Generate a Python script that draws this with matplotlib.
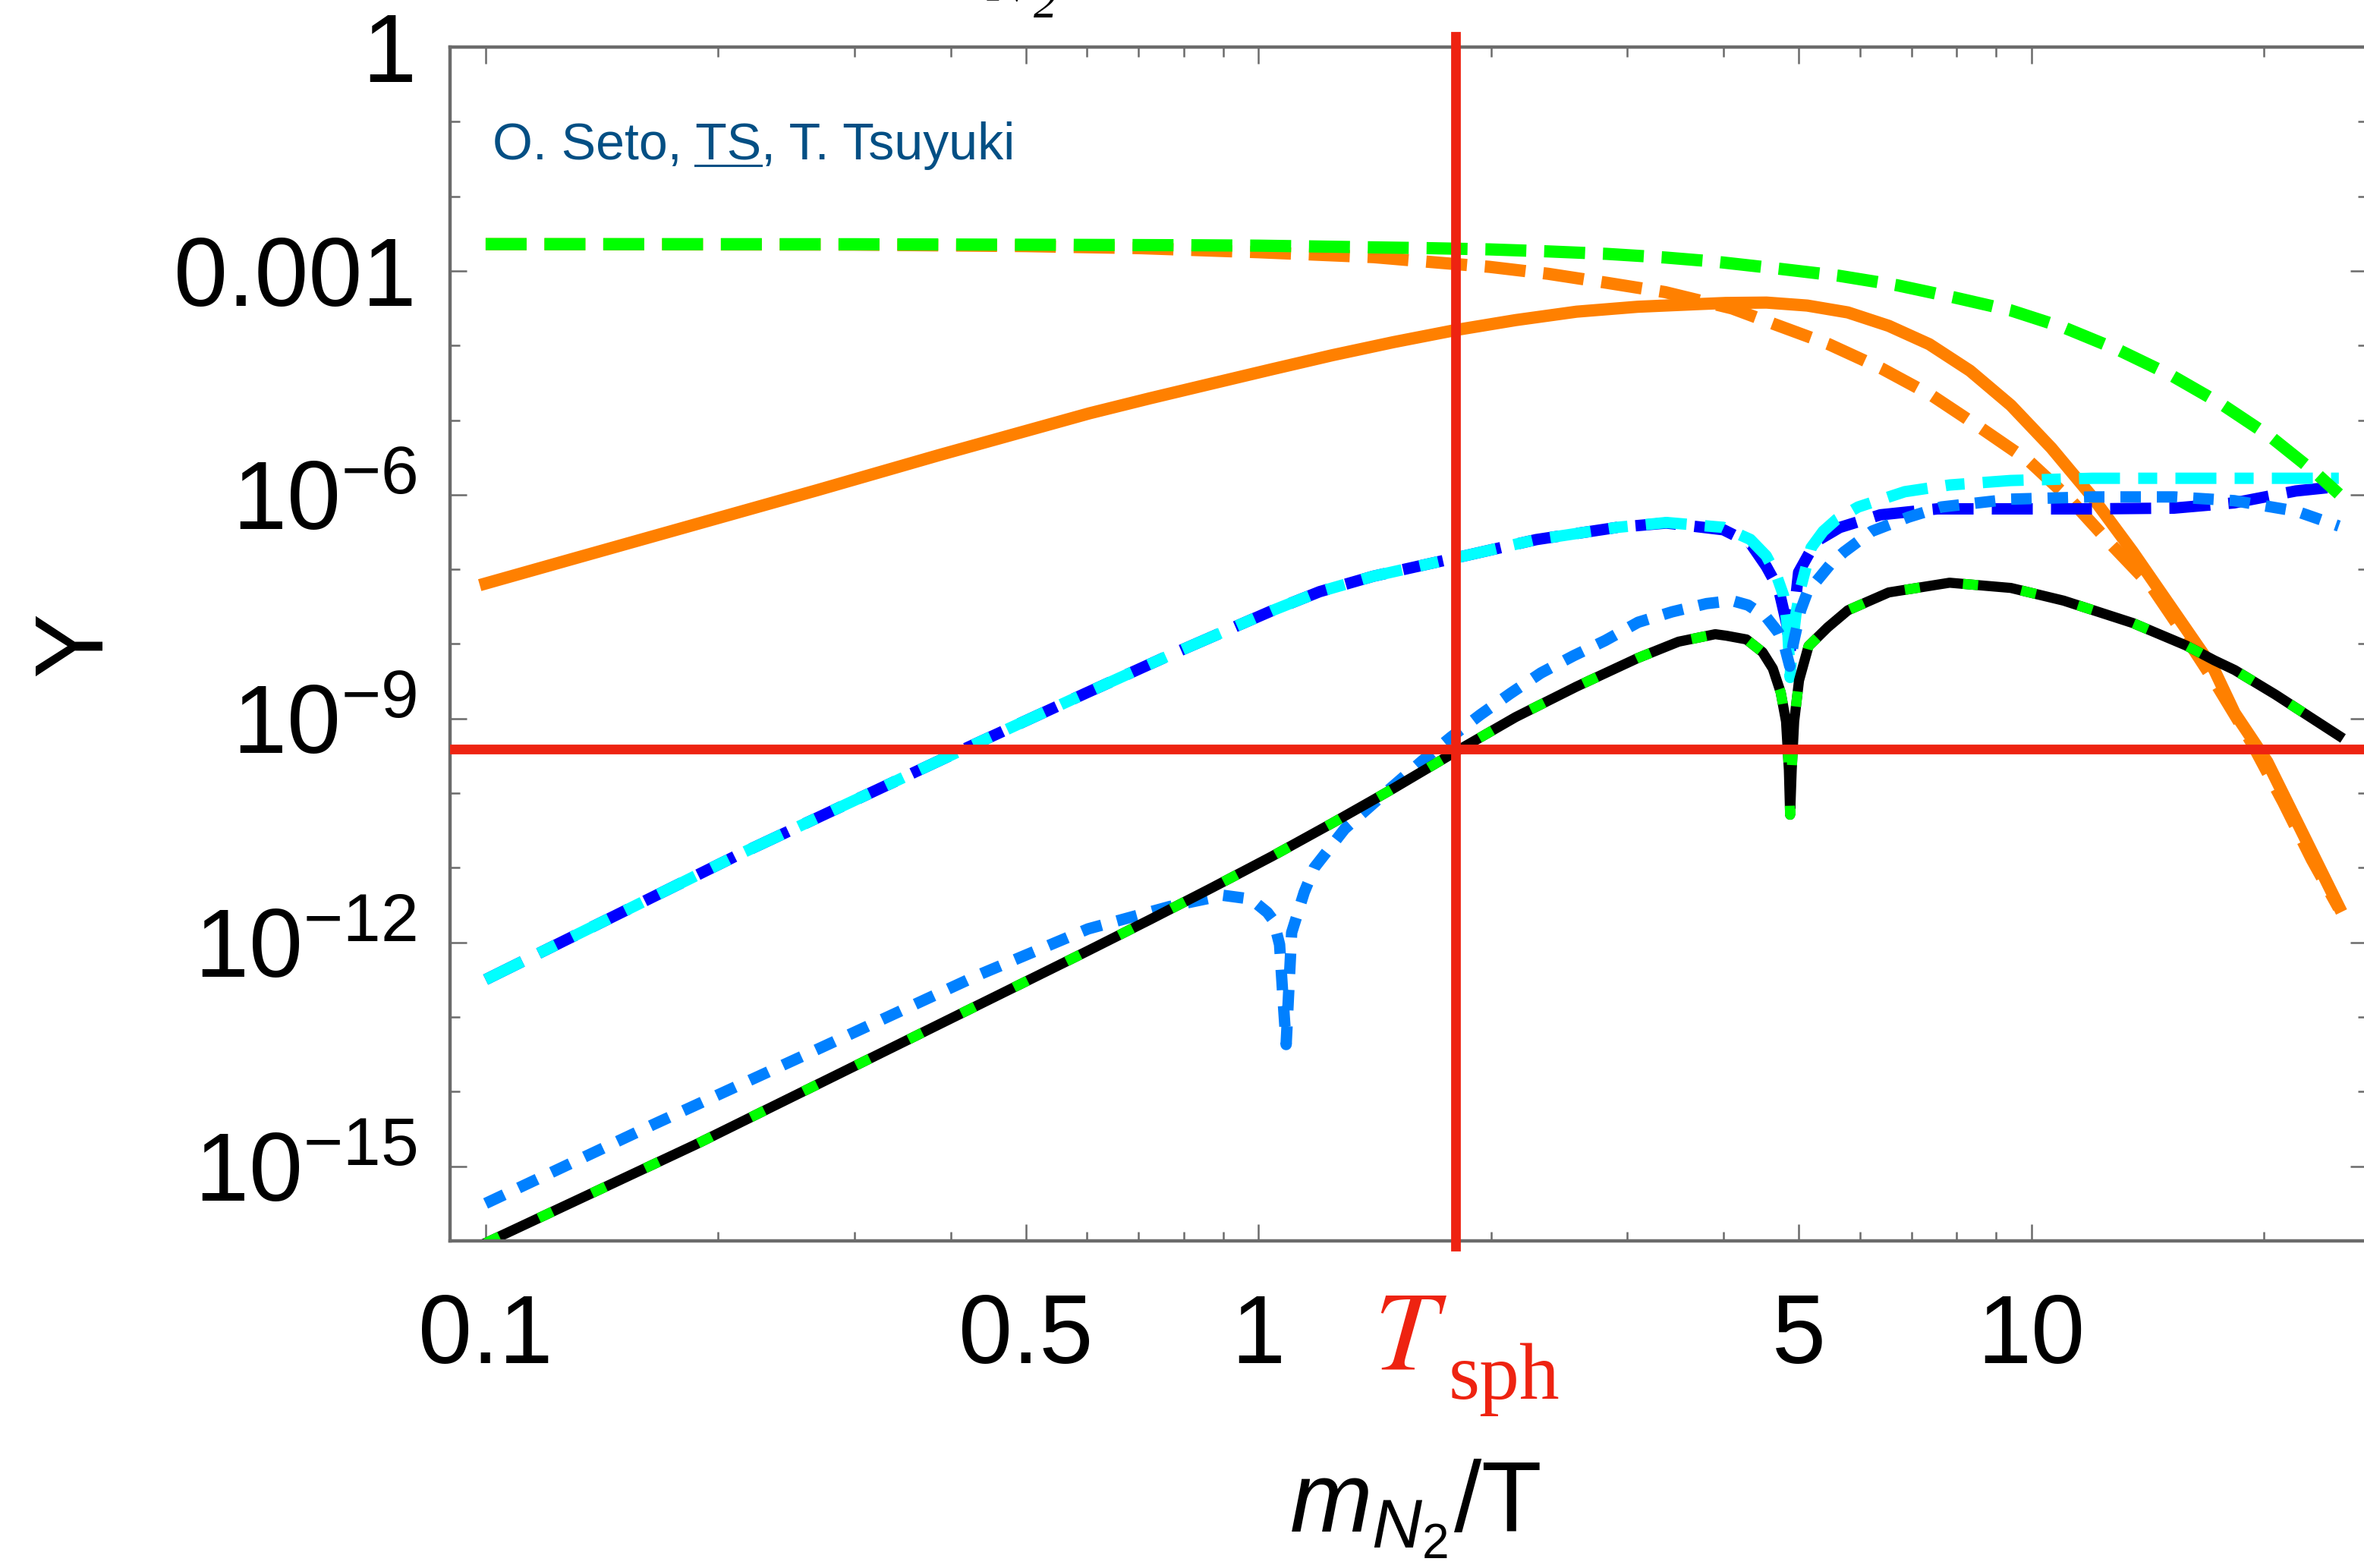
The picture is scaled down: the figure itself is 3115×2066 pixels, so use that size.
import numpy as np
import matplotlib
matplotlib.use("Agg")
import matplotlib.pyplot as plt
from matplotlib.lines import Line2D
from matplotlib.ticker import FixedLocator, FixedFormatter, NullFormatter

# ── Data (y values stored as log10 Y) ────────────────────────────────────────

green_top_x = [0.1, 0.3, 0.6, 0.838, 1.0, 1.186, 1.41, 1.67, 1.99, 2.37, 2.82,
               3.36, 3.89, 4.74, 5.64, 6.70, 7.94, 9.41, 11.05, 13.0, 15.23,
               17.65, 20.42, 23.3, 25.0]
green_top_logy = [-2.641, -2.643, -2.652, -2.657, -2.662, -2.673, -2.685,
                  -2.696, -2.712, -2.739, -2.772, -2.821, -2.875, -2.974,
                  -3.066, -3.192, -3.355, -3.530, -3.764, -4.065, -4.409,
                  -4.790, -5.227, -5.702, -5.99]

orange_dash_x = [0.1, 0.3, 0.5, 0.705, 1.0, 1.41, 1.67, 1.99, 2.37, 2.82,
                 3.36, 4.10, 4.64, 5.47, 6.41, 7.45, 8.62, 9.93, 11.21, 12.69,
                 14.33, 15.47, 17.36, 19.24, 21.2, 23.07, 25.0]
orange_dash_logy = [-2.642, -2.648, -2.668, -2.696, -2.75, -2.816, -2.881,
                    -2.946, -3.039, -3.159, -3.285, -3.503, -3.710, -3.983,
                    -4.311, -4.676, -5.112, -5.549, -6.056, -6.667, -7.240,
                    -7.748, -8.544, -9.308, -10.126, -10.89, -11.54]

orange_sol_x = [0.1, 0.1297, 0.1866, 0.2685, 0.386, 0.604, 0.7225, 0.8666,
                1.04, 1.247, 1.496, 1.80, 2.152, 2.58, 3.096, 3.715, 4.025,
                4.544, 5.13, 5.79, 6.54, 7.38, 8.33, 9.41, 10.62, 11.99,
                13.53, 15.28, 17.25, 18.33, 20.2, 22.5, 25.0]
orange_sol_logy = [-7.19, -6.86, -6.40, -5.94, -5.47, -4.91, -4.71, -4.515,
                   -4.32, -4.13, -3.955, -3.793, -3.66, -3.547, -3.481,
                   -3.445, -3.43, -3.425, -3.465, -3.557, -3.737, -3.983,
                   -4.338, -4.802, -5.375, -6.029, -6.765, -7.557, -8.348,
                   -8.926, -9.58, -10.56, -11.52]

cyan_x = [0.1, 0.211, 0.41, 0.598, 0.768, 1.04, 1.2, 1.408, 1.80, 2.288,
          2.913, 3.372, 3.996, 4.33, 4.54, 4.68, 4.78, 4.84, 4.875, 4.90,
          4.96, 5.03, 5.19, 5.38, 5.6, 5.97, 6.86, 7.84, 9.4, 12.0, 17.3,
          25.0]
cyan_logy = [-12.5, -10.84, -9.44, -8.66, -8.15, -7.557, -7.30, -7.093,
             -6.847, -6.602, -6.438, -6.373, -6.438, -6.60, -6.82, -7.08,
             -7.35, -7.8, -8.45, -8.07, -7.6, -7.25, -6.71, -6.49, -6.33,
             -6.165, -5.96, -5.87, -5.81, -5.78, -5.78, -5.78]

blue_x = [0.1, 0.211, 0.41, 0.598, 0.768, 1.04, 1.2, 1.408, 1.80, 2.288,
          2.913, 3.372, 3.996, 4.33, 4.54, 4.71, 4.83, 4.875, 4.92, 5.0, 5.26,
          5.65, 6.38, 7.56, 9.4, 12.0, 15.3, 18.3, 22.0, 25.0]
blue_logy = [-12.5, -10.84, -9.44, -8.66, -8.15, -7.557, -7.30, -7.093,
             -6.847, -6.602, -6.438, -6.38, -6.47, -6.65, -6.96, -7.26, -7.75,
             -8.1, -7.7, -7.04, -6.63, -6.44, -6.27, -6.19, -6.19, -6.19,
             -6.18, -6.11, -5.95, -5.89]

ltblue_x = [0.1, 0.165, 0.268, 0.436, 0.602, 0.768, 0.9, 0.978, 1.027, 1.046,
            1.065, 1.075, 1.086, 1.094, 1.104, 1.146, 1.181, 1.293, 1.477,
            1.628, 1.773, 1.935, 2.118, 2.32, 2.556, 2.81, 3.10, 3.43, 3.8,
            4.1, 4.3, 4.54, 4.71, 4.80, 4.87, 4.92, 5.03, 5.13, 5.50, 5.72,
            6.22, 6.94, 7.65, 9.4, 12.0, 15.3, 18.3, 22.0, 25.0]
ltblue_logy = [-15.50, -14.44, -13.44, -12.43, -11.82, -11.52, -11.37,
               -11.42, -11.60, -11.71, -12.03, -12.69, -13.37, -12.69, -11.87,
               -11.33, -11.0, -10.48, -9.95, -9.57, -9.253, -8.953, -8.665,
               -8.39, -8.16, -7.955, -7.71, -7.57, -7.46, -7.42, -7.48, -7.64,
               -7.85, -8.05, -8.3, -8.0, -7.55, -7.31, -6.93, -6.77, -6.49,
               -6.30, -6.165, -6.06, -6.03, -6.03, -6.08, -6.22, -6.42]

black_x = [0.1, 0.187, 0.342, 0.6, 0.7225, 0.8666, 1.04, 1.247, 1.496, 1.80,
           2.152, 2.58, 3.096, 3.497, 3.90, 4.03, 4.28, 4.49, 4.63, 4.74,
           4.816, 4.857, 4.875, 4.898, 4.934, 5.006, 5.15, 5.45, 5.79, 6.54,
           7.84, 9.41, 11.01, 13.53, 15.85, 17.25, 18.33, 20.7, 25.0]
black_logy = [-16.03, -14.71, -13.37, -12.12, -11.70, -11.28, -10.85, -10.40,
              -9.936, -9.444, -8.981, -8.572, -8.19, -7.97, -7.87, -7.89,
              -7.94, -8.11, -8.33, -8.65, -9.04, -9.69, -10.29, -9.69, -9.04,
              -8.49, -8.03, -7.78, -7.55, -7.31, -7.18, -7.25, -7.42, -7.72,
              -8.02, -8.22, -8.35, -8.68, -9.23]

T_SPH = 1.8        # m_N2 / T at the sphaleron decoupling
Y_OBS = 3.85e-10   # horizontal reference value

x_major = [0.1, 0.5, 1, 5, 10]
x_labels = ["0.1", "0.5", "1", "5", "10"]
x_minor = [0.09, 0.2, 0.3, 0.4, 0.6, 0.7, 0.8, 0.9, 2, 3, 4, 6, 7, 8, 9, 20]
y_major = [1, 1e-3, 1e-6, 1e-9, 1e-12, 1e-15]
y_labels = ["1", "0.001", r"$10^{-6}$", r"$10^{-9}$", r"$10^{-12}$",
            r"$10^{-15}$"]
y_minor = [1e-1, 1e-2, 1e-4, 1e-5, 1e-7, 1e-8, 1e-10, 1e-11, 1e-13, 1e-14]

# ── Style ────────────────────────────────────────────────────────────────────

plt.rcParams["font.family"] = ["Liberation Sans", "DejaVu Sans"]
plt.rcParams["mathtext.fontset"] = "custom"
plt.rcParams["mathtext.rm"] = "Liberation Sans"
plt.rcParams["mathtext.it"] = "Liberation Sans:italic"
plt.rcParams["mathtext.bf"] = "Liberation Sans:bold"

GREEN = "#00ff00"
ORANGE = "#ff8000"
CYAN = "#00ffff"
BLUE = "#0000ff"
LTBLUE = "#0080ff"
RED = "#ee2311"
FRAME = "#6b6b6b"
AUTHOR = "#034f84"

W, H, DPI = 3115, 2066, 200
fig = plt.figure(figsize=(W / DPI, H / DPI), dpi=DPI)
ax = fig.add_axes([593.3 / W, 1 - 1634.8 / H, 2525.8 / W, 1572.8 / H])

# ── Curves ───────────────────────────────────────────────────────────────────

def ys(logy):
    return 10.0 ** np.asarray(logy)

LW_O = 5.8   # orange / green
LW_B = 5.4   # blue family
LW_K = 4.8   # black

ax.plot(orange_sol_x, ys(orange_sol_logy), color=ORANGE, lw=LW_O)
ax.plot(orange_dash_x, ys(orange_dash_logy), color=ORANGE, lw=LW_O,
        ls=(0, (3.35, 1.46)))
ax.plot(blue_x, ys(blue_logy), color=BLUE, lw=LW_B, ls=(0, (3.6, 1.6)))
ax.plot(cyan_x, ys(cyan_logy), color=CYAN, lw=LW_B,
        ls=(0, (3.6, 1.6, 1.67, 1.6)))
ax.plot(ltblue_x, ys(ltblue_logy), color=LTBLUE, lw=LW_B, ls=(0, (1.8, 1.4)))
ax.plot(green_top_x, ys(green_top_logy), color=GREEN, lw=LW_O,
        ls=(0, (3.35, 1.46)))
ax.plot(black_x, ys(black_logy), color="black", lw=LW_K)
ax.plot(black_x, ys(black_logy), color=GREEN, lw=LW_K, ls=(0, (1.5, 4.3)))

ax.axhline(Y_OBS, color=RED, lw=4.6, zorder=10)
ax.axvline(T_SPH, color=RED, lw=4.6, ymin=-0.0045, ymax=1.009,
           clip_on=False, zorder=10)

# ── Axes ─────────────────────────────────────────────────────────────────────

ax.set_xscale("log")
ax.set_yscale("log")
ax.set_xlim(0.09, 27.2)
ax.set_ylim(1e-16, 1)

ax.xaxis.set_major_locator(FixedLocator(x_major))
ax.xaxis.set_major_formatter(FixedFormatter(x_labels))
ax.xaxis.set_minor_locator(FixedLocator(x_minor))
ax.xaxis.set_minor_formatter(NullFormatter())
ax.yaxis.set_major_locator(FixedLocator(y_major))
ax.yaxis.set_major_formatter(FixedFormatter(y_labels))
ax.yaxis.set_minor_locator(FixedLocator(y_minor))
ax.yaxis.set_minor_formatter(NullFormatter())

ax.tick_params(which="both", direction="in", top=True, right=True,
               color=FRAME, width=0.9, labelsize=46)
ax.tick_params(which="major", length=8)
ax.tick_params(which="minor", length=4.5)
ax.tick_params(axis="x", which="major", pad=24.5)
ax.tick_params(axis="y", which="major", pad=16)
for sp in ax.spines.values():
    sp.set_color(FRAME)
    sp.set_linewidth(1.6)

# ── Texts ────────────────────────────────────────────────────────────────────

fig.text(100 / W, 1 - 848 / H, "Y", rotation=90, fontsize=46,
         ha="center", va="center")
fig.text(1865 / W, 1 - 2018 / H, r"$m_{N_2}$/T", fontsize=47,
         ha="center", va="baseline")

# cut-off title fragment at the very top
fig.text(1300 / W, 1 - 1 / H, r"$N$", math_fontfamily="stix", fontsize=29,
         ha="left", va="baseline")
fig.text(1362 / W, 1 - 23 / H, "2", family="Liberation Serif",
         style="italic", fontsize=22, ha="left", va="baseline")

AUTH_X, AUTH_Y, AUTH_FS = 649 / W, 1 - 209.5 / H, 24.5
fig.text(AUTH_X, AUTH_Y, "O. Seto, TS, T. Tsuyuki", color=AUTHOR,
         fontsize=AUTH_FS, va="baseline")

t_mark = fig.text(1810 / W, 1 - 1804 / H, r"$T$", math_fontfamily="stix",
                  fontsize=54, color=RED, ha="left", va="baseline")

fig.canvas.draw()
rend = fig.canvas.get_renderer()


def extent(s):
    t = fig.text(AUTH_X, AUTH_Y, s, fontsize=AUTH_FS, va="baseline")
    bb = t.get_window_extent(rend)
    t.remove()
    return bb


# underline under "TS"
ul_end = extent("O. Seto, TS").x1
ul_start = extent("O. Seto, T").x1 - extent("T").width
ul_y = AUTH_Y * H - 8
fig.add_artist(Line2D([ul_start / W, ul_end / W], [ul_y / H, ul_y / H],
                      transform=fig.transFigure, color=AUTHOR, lw=1.1))

# subscript of the T_sph marker, just right of the T
sub_x = max(1884, t_mark.get_window_extent(rend).x1 + 2)
fig.text(sub_x / W, 1 - 1843 / H, "sph", family="Liberation Serif",
         fontsize=38, color=RED, ha="left", va="baseline")

fig.savefig("out.png", dpi=DPI)
